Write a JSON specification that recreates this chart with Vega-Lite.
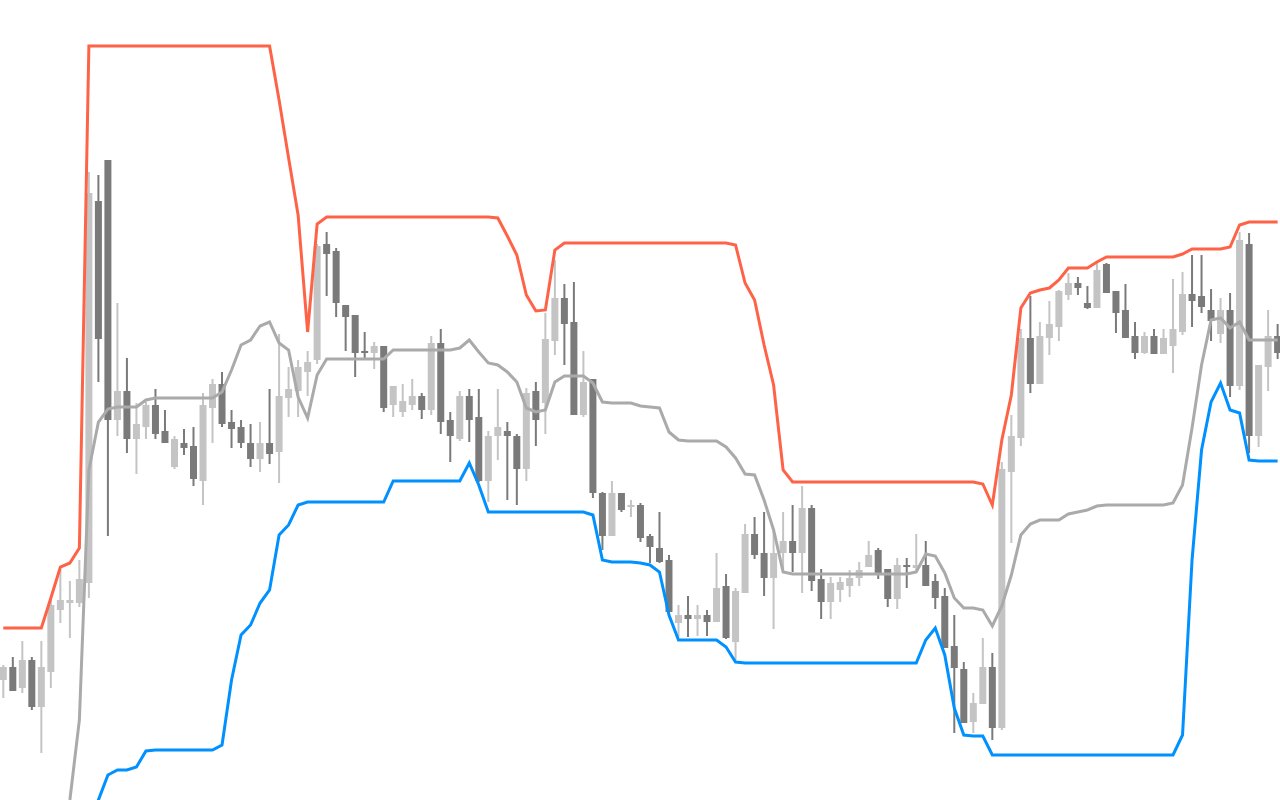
{
  "$schema": "https://vega.github.io/schema/vega-lite/v6.json",
  "width": 1280,
  "height": 800,
  "autosize": {"type": "none"},
  "padding": 0,
  "background": "#ffffff",
  "config": {"view": {"stroke": null}},
  "data": {"values": [
    {"i":0,"o":120,"h":135,"l":102,"c":133,"up":172,"mid":-80,"lo":-40},
    {"i":1,"o":133,"h":143,"l":109,"c":109,"up":172,"mid":-80,"lo":-40},
    {"i":2,"o":112,"h":159,"l":107,"c":140,"up":172,"mid":-80,"lo":-40},
    {"i":3,"o":140,"h":143,"l":90,"c":93,"up":172,"mid":-80,"lo":-40},
    {"i":4,"o":93,"h":159,"l":47,"c":133,"up":172,"mid":-80,"lo":-40},
    {"i":5,"o":128,"h":200,"l":112,"c":195,"up":202,"mid":-70,"lo":-40},
    {"i":6,"o":190,"h":231,"l":177,"c":200,"up":233,"mid":-48,"lo":-40},
    {"i":7,"o":197,"h":219,"l":162,"c":200,"up":237,"mid":0,"lo":-40},
    {"i":8,"o":197,"h":240,"l":193,"c":221,"up":252,"mid":80,"lo":-40},
    {"i":9,"o":217,"h":628,"l":202,"c":607,"up":754,"mid":330,"lo":-35},
    {"i":10,"o":599,"h":625,"l":418,"c":461,"up":754,"mid":378,"lo":0},
    {"i":11,"o":640,"h":640,"l":264,"c":380,"up":754,"mid":391,"lo":25},
    {"i":12,"o":380,"h":497,"l":364,"c":409,"up":754,"mid":393,"lo":30},
    {"i":13,"o":409,"h":442,"l":347,"c":361,"up":754,"mid":393,"lo":30},
    {"i":14,"o":361,"h":397,"l":326,"c":376,"up":754,"mid":393,"lo":33},
    {"i":15,"o":373,"h":398,"l":361,"c":395,"up":754,"mid":400,"lo":49},
    {"i":16,"o":395,"h":411,"l":361,"c":366,"up":754,"mid":402,"lo":50},
    {"i":17,"o":369,"h":390,"l":357,"c":357,"up":754,"mid":402,"lo":50},
    {"i":18,"o":333,"h":364,"l":331,"c":361,"up":754,"mid":402,"lo":50},
    {"i":19,"o":357,"h":371,"l":345,"c":352,"up":754,"mid":402,"lo":50},
    {"i":20,"o":354,"h":373,"l":314,"c":321,"up":754,"mid":402,"lo":50},
    {"i":21,"o":319,"h":407,"l":295,"c":395,"up":754,"mid":402,"lo":50},
    {"i":22,"o":392,"h":421,"l":357,"c":416,"up":754,"mid":402,"lo":50},
    {"i":23,"o":416,"h":428,"l":373,"c":376,"up":754,"mid":408,"lo":55},
    {"i":24,"o":378,"h":390,"l":352,"c":371,"up":754,"mid":430,"lo":120},
    {"i":25,"o":373,"h":380,"l":352,"c":357,"up":754,"mid":455,"lo":165},
    {"i":26,"o":357,"h":376,"l":333,"c":341,"up":754,"mid":460,"lo":175},
    {"i":27,"o":341,"h":378,"l":328,"c":357,"up":754,"mid":474,"lo":197},
    {"i":28,"o":357,"h":411,"l":336,"c":346,"up":754,"mid":478,"lo":210},
    {"i":29,"o":348,"h":466,"l":317,"c":404,"up":700,"mid":457,"lo":265},
    {"i":30,"o":402,"h":433,"l":383,"c":411,"up":642,"mid":450,"lo":275},
    {"i":31,"o":409,"h":440,"l":383,"c":433,"up":585,"mid":403,"lo":295},
    {"i":32,"o":428,"h":449,"l":404,"c":438,"up":468,"mid":382,"lo":298},
    {"i":33,"o":440,"h":556,"l":436,"c":554,"up":576,"mid":425,"lo":298},
    {"i":34,"o":556,"h":568,"l":504,"c":546,"up":583,"mid":441,"lo":298},
    {"i":35,"o":549,"h":552,"l":483,"c":497,"up":583,"mid":441,"lo":298},
    {"i":36,"o":495,"h":495,"l":449,"c":483,"up":583,"mid":441,"lo":298},
    {"i":37,"o":485,"h":485,"l":423,"c":447,"up":583,"mid":441,"lo":298},
    {"i":38,"o":449,"h":468,"l":442,"c":447,"up":583,"mid":441,"lo":298},
    {"i":39,"o":447,"h":458,"l":431,"c":454,"up":583,"mid":441,"lo":298},
    {"i":40,"o":454,"h":454,"l":388,"c":392,"up":583,"mid":441,"lo":298},
    {"i":41,"o":395,"h":414,"l":383,"c":414,"up":583,"mid":450,"lo":319},
    {"i":42,"o":388,"h":416,"l":383,"c":399,"up":583,"mid":450,"lo":319},
    {"i":43,"o":395,"h":421,"l":390,"c":404,"up":583,"mid":450,"lo":319},
    {"i":44,"o":404,"h":407,"l":381,"c":390,"up":583,"mid":450,"lo":319},
    {"i":45,"o":390,"h":464,"l":385,"c":457,"up":583,"mid":450,"lo":319},
    {"i":46,"o":457,"h":471,"l":366,"c":378,"up":583,"mid":450,"lo":319},
    {"i":47,"o":380,"h":388,"l":338,"c":364,"up":583,"mid":450,"lo":319},
    {"i":48,"o":361,"h":409,"l":359,"c":404,"up":583,"mid":452,"lo":319},
    {"i":49,"o":404,"h":411,"l":358,"c":380,"up":583,"mid":460,"lo":337},
    {"i":50,"o":383,"h":411,"l":318,"c":319,"up":583,"mid":448,"lo":315},
    {"i":51,"o":319,"h":369,"l":298,"c":364,"up":583,"mid":437,"lo":288},
    {"i":52,"o":364,"h":411,"l":340,"c":373,"up":582,"mid":435,"lo":288},
    {"i":53,"o":369,"h":378,"l":300,"c":364,"up":564,"mid":428,"lo":288},
    {"i":54,"o":364,"h":366,"l":295,"c":331,"up":545,"mid":418,"lo":288},
    {"i":55,"o":331,"h":412,"l":319,"c":407,"up":505,"mid":392,"lo":288},
    {"i":56,"o":409,"h":418,"l":354,"c":380,"up":489,"mid":388,"lo":288},
    {"i":57,"o":397,"h":487,"l":366,"c":461,"up":490,"mid":390,"lo":288},
    {"i":58,"o":459,"h":540,"l":445,"c":502,"up":550,"mid":418,"lo":288},
    {"i":59,"o":502,"h":516,"l":435,"c":476,"up":557,"mid":424,"lo":288},
    {"i":60,"o":478,"h":518,"l":385,"c":385,"up":557,"mid":424,"lo":288},
    {"i":61,"o":385,"h":449,"l":383,"c":418,"up":557,"mid":424,"lo":288},
    {"i":62,"o":421,"h":421,"l":302,"c":307,"up":557,"mid":417,"lo":285},
    {"i":63,"o":307,"h":308,"l":250,"c":264,"up":557,"mid":398,"lo":240},
    {"i":64,"o":264,"h":319,"l":264,"c":307,"up":557,"mid":397,"lo":238},
    {"i":65,"o":307,"h":307,"l":288,"c":290,"up":557,"mid":397,"lo":238},
    {"i":66,"o":293,"h":300,"l":283,"c":295,"up":557,"mid":397,"lo":238},
    {"i":67,"o":295,"h":297,"l":258,"c":262,"up":557,"mid":394,"lo":237},
    {"i":68,"o":264,"h":266,"l":237,"c":253,"up":557,"mid":393,"lo":235},
    {"i":69,"o":252,"h":288,"l":237,"c":238,"up":557,"mid":392,"lo":228},
    {"i":70,"o":240,"h":245,"l":187,"c":188,"up":557,"mid":368,"lo":185},
    {"i":71,"o":177,"h":195,"l":163,"c":185,"up":557,"mid":360,"lo":160},
    {"i":72,"o":185,"h":204,"l":163,"c":181,"up":557,"mid":359,"lo":160},
    {"i":73,"o":181,"h":195,"l":164,"c":185,"up":557,"mid":359,"lo":160},
    {"i":74,"o":185,"h":190,"l":164,"c":178,"up":557,"mid":359,"lo":160},
    {"i":75,"o":178,"h":247,"l":178,"c":212,"up":557,"mid":359,"lo":160},
    {"i":76,"o":214,"h":226,"l":161,"c":162,"up":557,"mid":353,"lo":153},
    {"i":77,"o":158,"h":212,"l":140,"c":209,"up":555,"mid":342,"lo":138},
    {"i":78,"o":207,"h":276,"l":207,"c":266,"up":517,"mid":326,"lo":137},
    {"i":79,"o":266,"h":283,"l":241,"c":245,"up":500,"mid":325,"lo":137},
    {"i":80,"o":247,"h":288,"l":204,"c":222,"up":455,"mid":300,"lo":137},
    {"i":81,"o":222,"h":271,"l":171,"c":247,"up":415,"mid":270,"lo":137},
    {"i":82,"o":247,"h":288,"l":228,"c":259,"up":330,"mid":228,"lo":137},
    {"i":83,"o":259,"h":295,"l":228,"c":247,"up":318,"mid":226,"lo":137},
    {"i":84,"o":247,"h":314,"l":207,"c":292,"up":318,"mid":226,"lo":137},
    {"i":85,"o":292,"h":295,"l":209,"c":219,"up":318,"mid":226,"lo":137},
    {"i":86,"o":221,"h":231,"l":181,"c":198,"up":318,"mid":226,"lo":137},
    {"i":87,"o":198,"h":223,"l":181,"c":217,"up":318,"mid":226,"lo":137},
    {"i":88,"o":210,"h":223,"l":198,"c":218,"up":318,"mid":226,"lo":137},
    {"i":89,"o":214,"h":230,"l":203,"c":222,"up":318,"mid":226,"lo":137},
    {"i":90,"o":222,"h":238,"l":214,"c":230,"up":318,"mid":226,"lo":137},
    {"i":91,"o":233,"h":259,"l":233,"c":245,"up":318,"mid":226,"lo":137},
    {"i":92,"o":250,"h":252,"l":221,"c":227,"up":318,"mid":226,"lo":137},
    {"i":93,"o":231,"h":231,"l":193,"c":201,"up":318,"mid":226,"lo":137},
    {"i":94,"o":201,"h":242,"l":191,"c":235,"up":318,"mid":226,"lo":137},
    {"i":95,"o":235,"h":242,"l":212,"c":233,"up":318,"mid":226,"lo":137},
    {"i":96,"o":232,"h":266,"l":228,"c":235,"up":318,"mid":228,"lo":137},
    {"i":97,"o":235,"h":259,"l":214,"c":214,"up":318,"mid":246,"lo":160},
    {"i":98,"o":219,"h":226,"l":191,"c":202,"up":318,"mid":244,"lo":172},
    {"i":99,"o":204,"h":212,"l":152,"c":152,"up":318,"mid":227,"lo":145},
    {"i":100,"o":154,"h":185,"l":67,"c":132,"up":318,"mid":202,"lo":92},
    {"i":101,"o":131,"h":138,"l":77,"c":77,"up":318,"mid":192,"lo":65},
    {"i":102,"o":78,"h":107,"l":67,"c":97,"up":318,"mid":192,"lo":64},
    {"i":103,"o":96,"h":162,"l":96,"c":133,"up":316,"mid":190,"lo":64},
    {"i":104,"o":133,"h":147,"l":60,"c":72,"up":295,"mid":174,"lo":45},
    {"i":105,"o":72,"h":338,"l":70,"c":331,"up":360,"mid":194,"lo":45},
    {"i":106,"o":328,"h":385,"l":257,"c":364,"up":405,"mid":225,"lo":45},
    {"i":107,"o":362,"h":471,"l":354,"c":462,"up":492,"mid":265,"lo":45},
    {"i":108,"o":462,"h":504,"l":407,"c":416,"up":507,"mid":276,"lo":45},
    {"i":109,"o":416,"h":478,"l":416,"c":464,"up":510,"mid":280,"lo":45},
    {"i":110,"o":462,"h":499,"l":445,"c":476,"up":512,"mid":280,"lo":45},
    {"i":111,"o":473,"h":510,"l":459,"c":509,"up":520,"mid":280,"lo":45},
    {"i":112,"o":505,"h":527,"l":500,"c":517,"up":532,"mid":286,"lo":45},
    {"i":113,"o":517,"h":523,"l":505,"c":512,"up":532,"mid":288,"lo":45},
    {"i":114,"o":497,"h":514,"l":491,"c":492,"up":532,"mid":290,"lo":45},
    {"i":115,"o":492,"h":537,"l":492,"c":530,"up":538,"mid":294,"lo":45},
    {"i":116,"o":536,"h":537,"l":507,"c":507,"up":543,"mid":295,"lo":45},
    {"i":117,"o":509,"h":509,"l":467,"c":487,"up":543,"mid":295,"lo":45},
    {"i":118,"o":490,"h":516,"l":462,"c":462,"up":543,"mid":295,"lo":45},
    {"i":119,"o":464,"h":478,"l":441,"c":447,"up":543,"mid":295,"lo":45},
    {"i":120,"o":447,"h":468,"l":446,"c":464,"up":543,"mid":295,"lo":45},
    {"i":121,"o":464,"h":471,"l":446,"c":446,"up":543,"mid":295,"lo":45},
    {"i":122,"o":446,"h":471,"l":446,"c":462,"up":543,"mid":295,"lo":45},
    {"i":123,"o":454,"h":521,"l":427,"c":471,"up":543,"mid":297,"lo":45},
    {"i":124,"o":468,"h":528,"l":465,"c":506,"up":546,"mid":315,"lo":65},
    {"i":125,"o":506,"h":545,"l":473,"c":499,"up":551,"mid":372,"lo":240},
    {"i":126,"o":504,"h":545,"l":487,"c":493,"up":551,"mid":435,"lo":350},
    {"i":127,"o":490,"h":511,"l":459,"c":479,"up":551,"mid":480,"lo":398},
    {"i":128,"o":466,"h":502,"l":457,"c":490,"up":551,"mid":482,"lo":417},
    {"i":129,"o":490,"h":507,"l":403,"c":414,"up":553,"mid":472,"lo":390},
    {"i":130,"o":414,"h":568,"l":410,"c":560,"up":575,"mid":478,"lo":387},
    {"i":131,"o":556,"h":567,"l":347,"c":364,"up":578,"mid":460,"lo":340},
    {"i":132,"o":364,"h":435,"l":353,"c":435,"up":578,"mid":460,"lo":339},
    {"i":133,"o":433,"h":490,"l":409,"c":464,"up":578,"mid":460,"lo":339},
    {"i":134,"o":464,"h":476,"l":441,"c":447,"up":578,"mid":460,"lo":339}
  ]},
  "encoding": {
    "x": {"field": "i", "type": "quantitative", "axis": null,
          "scale": {"domain": [-0.347, 134.25], "nice": false, "zero": false, "padding": 0}}
  },
  "layer": [
    {
      "mark": {"type": "rule", "strokeWidth": 2, "clip": true},
      "encoding": {
        "y": {"field": "l", "type": "quantitative", "axis": null, "scale": {"domain": [0, 800], "nice": false, "zero": false, "padding": 0}},
        "y2": {"field": "h"},
        "color": {"condition": {"test": "datum.c >= datum.o", "value": "#c4c4c4"}, "value": "#7a7a7a"}
      }
    },
    {
      "mark": {"type": "bar", "width": 7, "clip": true},
      "encoding": {
        "y": {"field": "o", "type": "quantitative", "axis": null, "scale": {"domain": [0, 800], "nice": false, "zero": false, "padding": 0}},
        "y2": {"field": "c"},
        "color": {"condition": {"test": "datum.c >= datum.o", "value": "#c4c4c4"}, "value": "#7a7a7a"}
      }
    },
    {
      "mark": {"type": "line", "color": "#aaaaaa", "strokeWidth": 3, "clip": true},
      "encoding": {
        "y": {"field": "mid", "type": "quantitative", "axis": null, "scale": {"domain": [0, 800], "nice": false, "zero": false, "padding": 0}}
      }
    },
    {
      "mark": {"type": "line", "color": "#ff6347", "strokeWidth": 3, "clip": true},
      "encoding": {
        "y": {"field": "up", "type": "quantitative", "axis": null, "scale": {"domain": [0, 800], "nice": false, "zero": false, "padding": 0}}
      }
    },
    {
      "mark": {"type": "line", "color": "#0091ff", "strokeWidth": 3, "clip": true},
      "encoding": {
        "y": {"field": "lo", "type": "quantitative", "axis": null, "scale": {"domain": [0, 800], "nice": false, "zero": false, "padding": 0}}
      }
    }
  ]
}
